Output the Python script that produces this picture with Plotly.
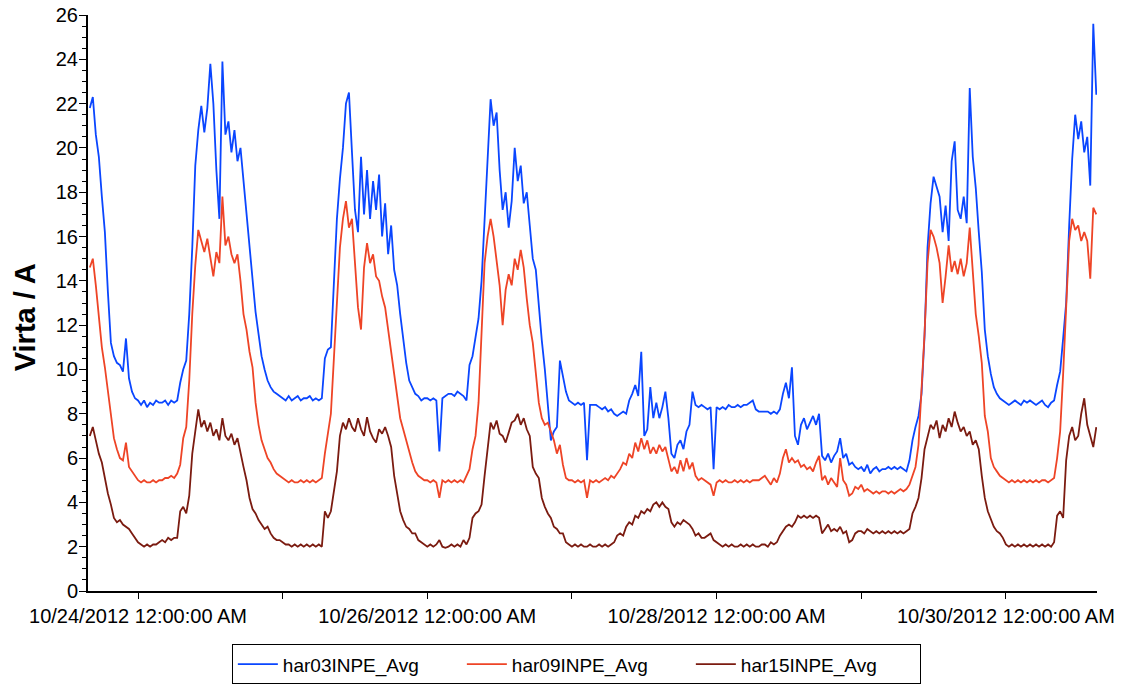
import pandas as pd
import plotly.graph_objects as go

# 30-minute samples starting 2012-10-23 16:00
start_time = "2012-10-23 16:00"
step = "30min"

har03 = [
    21.8, 22.3, 20.6, 19.6, 17.8, 16.2, 13.5, 11.2,
    10.6, 10.3, 10.2, 9.9, 11.4, 9.6, 9.0, 8.7,
    8.6, 8.4, 8.6, 8.3, 8.5, 8.4, 8.6, 8.5,
    8.5, 8.6, 8.4, 8.6, 8.5, 8.6, 9.4, 10.0,
    10.4, 12.5, 15.5, 19.2, 20.8, 21.9, 20.7, 21.8,
    23.8, 22.0, 19.0, 16.8, 23.9, 20.6, 21.2, 19.8,
    20.8, 19.4, 20.0, 18.5, 16.8, 15.6, 13.8, 12.6,
    11.6, 10.6, 10.0, 9.5, 9.2, 9.0, 8.9, 8.8,
    8.7, 8.6, 8.8, 8.6, 8.7, 8.8, 8.6, 8.7,
    8.7, 8.8, 8.6, 8.7, 8.6, 8.7, 10.5, 10.9,
    11.0, 13.8, 16.8, 18.6, 20.0, 22.0, 22.5, 19.8,
    17.2, 16.2, 19.6, 17.0, 19.0, 16.8, 18.5, 17.2,
    18.8, 16.0, 17.5, 15.2, 16.5, 14.5, 13.8, 12.5,
    11.3, 10.3, 9.5, 9.2, 8.9, 8.8, 8.6, 8.7,
    8.7, 8.6, 8.7, 8.6, 6.3, 8.7, 8.8, 8.9,
    8.9, 8.8, 9.0, 8.9, 8.8, 8.6, 10.2, 10.6,
    11.5, 12.3, 14.0, 16.8, 19.5, 22.2, 21.0, 21.6,
    19.0, 17.2, 18.0, 16.4, 17.6, 20.0, 18.5, 19.2,
    17.5, 18.0, 16.5, 15.0, 14.5, 12.8, 11.3, 10.0,
    8.2, 6.8, 7.2, 7.4, 10.4, 9.6, 9.0, 8.6,
    8.5, 8.4, 8.5, 8.4, 8.5, 5.9, 8.4, 8.4,
    8.4, 8.3, 8.2, 8.3, 8.1, 8.2, 8.0, 7.9,
    8.0, 8.1, 8.0, 8.6, 8.9, 9.3, 8.8, 10.8,
    7.0, 7.3, 9.2, 7.8, 8.5, 7.8, 8.3, 9.0,
    7.8, 6.2, 6.0, 6.6, 6.8, 6.4, 7.2, 7.5,
    9.0, 8.4, 8.3, 8.4, 8.3, 8.2, 8.3, 5.5,
    8.3, 8.2, 8.3, 8.2, 8.4, 8.3, 8.3, 8.4,
    8.3, 8.4, 8.4, 8.5, 8.6, 8.2, 8.1, 8.1,
    8.1, 8.1, 8.0, 8.1, 8.0, 8.2, 8.9, 9.4,
    8.7, 10.1, 7.0, 6.6, 7.5, 7.8, 7.3, 7.6,
    7.9, 7.5, 8.0, 6.1, 5.9, 6.2, 5.8, 6.1,
    6.3, 6.9, 6.0, 6.2, 5.7, 5.8, 5.6, 5.5,
    5.6, 5.4, 5.7, 5.3, 5.5, 5.6, 5.4, 5.5,
    5.5, 5.6, 5.5, 5.6, 5.5, 5.6, 5.5, 5.4,
    5.9, 6.8, 7.4, 7.9, 8.9, 11.5, 15.5, 17.5,
    18.7, 18.3, 17.8, 16.2, 17.4, 15.8, 19.4, 20.3,
    17.2, 16.8, 17.8, 16.6, 22.7, 19.6, 18.2, 16.2,
    14.4, 11.8, 10.6, 9.8, 9.2, 8.9, 8.7, 8.6,
    8.5, 8.4, 8.5, 8.6, 8.5, 8.4, 8.6, 8.5,
    8.6, 8.5, 8.4, 8.5, 8.6, 8.4, 8.3, 8.5,
    8.6, 9.3, 9.9, 11.4, 13.0, 16.5, 19.5, 21.5,
    20.4, 21.2, 19.8, 20.5, 18.3, 25.6, 22.4,
]

har09 = [
    14.6, 15.0, 13.8, 12.4, 11.0, 10.1, 9.0, 7.8,
    6.9, 6.4, 6.0, 5.9, 6.7, 5.6, 5.4, 5.2,
    5.0, 4.9, 5.0, 4.9, 4.9, 5.0, 4.9, 5.0,
    5.0, 5.1, 5.1, 5.2, 5.1, 5.3, 5.7, 6.9,
    7.4, 9.5, 12.5, 14.7, 16.3, 15.8, 15.3, 15.9,
    15.0, 14.2, 15.3, 14.8, 17.8, 15.6, 16.0, 15.2,
    14.8, 15.2, 14.0, 12.5, 11.8, 10.8, 10.1, 8.5,
    7.5, 6.8, 6.4, 6.0, 5.8, 5.5, 5.3, 5.2,
    5.1, 5.0, 4.9, 5.0, 4.9, 4.9, 5.0, 4.9,
    5.0, 4.9, 5.0, 4.9, 5.0, 5.1, 6.2, 7.2,
    8.0, 10.5, 13.0, 15.5, 16.8, 17.6, 16.4, 16.8,
    14.8, 12.8, 11.8, 14.6, 15.7, 14.8, 15.2, 14.2,
    14.0, 13.3, 12.8, 11.8, 10.6, 9.7, 8.8, 7.8,
    7.3, 6.8, 6.2, 5.8, 5.4, 5.2, 5.1, 5.0,
    5.0, 4.9, 5.0, 4.9, 4.2, 5.0, 4.9, 5.0,
    4.9, 5.0, 4.9, 5.0, 4.9, 5.2, 5.5, 6.4,
    7.0, 8.5, 11.5, 14.8, 16.0, 16.8, 16.0, 15.0,
    13.8, 12.0, 13.6, 14.3, 13.8, 15.0, 14.5, 15.4,
    14.6, 13.2, 12.0, 11.2, 9.8, 8.5, 7.8, 7.5,
    7.6, 7.2, 6.8, 6.2, 6.6, 5.7, 5.1, 5.0,
    5.0, 4.9, 5.0, 4.9, 5.0, 4.2, 5.0, 4.9,
    5.0, 4.9, 5.0, 5.1, 5.0, 5.2, 5.1, 5.3,
    5.5, 5.8, 5.7, 6.2, 6.0, 6.7, 6.3, 6.9,
    6.4, 6.8, 6.2, 6.5, 6.2, 6.6, 6.3, 6.5,
    5.9, 5.4, 5.6, 5.3, 5.9, 5.4, 6.0, 5.5,
    5.8, 5.2, 5.0, 5.1, 5.0, 4.9, 4.8, 4.3,
    4.9, 5.0, 4.9, 5.0, 4.9, 4.9, 5.0, 4.9,
    5.0, 4.9, 5.0, 4.9, 5.0, 5.0, 5.0, 5.1,
    5.2, 5.0, 4.8, 5.1, 4.9, 5.3, 6.0, 6.4,
    5.8, 6.0, 5.8, 5.9, 5.6, 5.7, 5.5, 5.6,
    5.4, 5.8, 6.1, 5.0, 5.2, 4.8, 5.1, 4.9,
    4.7, 6.0, 5.0, 4.8, 4.3, 4.4, 4.7, 4.6,
    4.8, 4.5, 4.6, 4.5, 4.4, 4.5, 4.4, 4.5,
    4.5, 4.4, 4.5, 4.4, 4.5, 4.6, 4.5, 4.6,
    4.8, 5.2, 5.6, 6.6, 8.9, 11.6, 14.8, 16.3,
    16.0, 15.5, 14.8, 13.0, 14.2, 15.6, 14.4, 14.9,
    14.3, 15.0, 14.2, 14.8, 16.4, 14.6, 12.5, 11.5,
    10.3, 7.9, 7.2, 6.0, 5.6, 5.4, 5.2, 5.1,
    5.0, 4.9, 5.0, 4.9, 5.0, 4.9, 5.0, 4.9,
    5.0, 4.9, 5.0, 4.9, 5.0, 5.0, 4.9, 5.0,
    5.1, 6.0, 7.2, 9.8, 12.5, 15.8, 16.8, 16.3,
    16.5, 15.8, 16.2, 15.8, 14.1, 17.3, 17.0,
]

har15 = [
    7.0, 7.4, 6.8, 6.2, 5.8, 5.1, 4.4, 3.9,
    3.3, 3.1, 3.2, 3.0, 2.9, 2.8, 2.6, 2.4,
    2.2, 2.1, 2.0, 2.1, 2.0, 2.1, 2.1, 2.2,
    2.3, 2.2, 2.4, 2.3, 2.4, 2.4, 3.6, 3.8,
    3.5, 4.3, 6.2, 7.2, 8.2, 7.4, 7.7, 7.2,
    7.6, 7.0, 7.3, 6.8, 7.8, 7.0, 6.8, 7.1,
    6.6, 6.9, 6.2, 5.6, 5.0, 4.2, 3.7, 3.5,
    3.2, 3.0, 2.8, 2.9, 2.6, 2.4, 2.3, 2.3,
    2.2, 2.1, 2.1, 2.0, 2.1, 2.0, 2.1, 2.0,
    2.1, 2.0, 2.1, 2.0, 2.1, 2.0, 3.6, 3.3,
    3.6, 4.6, 5.4, 7.0, 7.6, 7.3, 7.8, 7.4,
    7.2, 7.8, 7.3, 7.0, 7.85, 7.2, 6.9, 6.7,
    7.3, 7.1, 7.4, 7.0, 6.5, 5.2, 4.4, 3.6,
    3.2, 2.9, 2.8, 2.6, 2.6, 2.3, 2.2, 2.1,
    2.0, 2.1, 2.0, 2.1, 2.3, 2.0, 1.95, 2.0,
    2.1, 2.0, 2.1, 2.0, 2.3, 2.1, 2.4, 3.3,
    3.5, 3.6, 3.9, 5.2, 6.3, 7.6, 7.3, 7.7,
    7.1, 7.0, 6.7, 7.2, 7.6, 7.7, 8.0, 7.5,
    7.8, 7.3, 7.0, 5.6, 5.3, 5.1, 4.2, 3.8,
    3.5, 3.3, 2.9, 2.8, 2.6, 2.6, 2.2, 2.1,
    2.0, 2.1, 2.0, 2.1, 2.0, 2.0, 2.1, 2.0,
    2.0, 2.1, 2.0, 2.1, 2.0, 2.1, 2.2, 2.5,
    2.6, 2.5, 2.9, 3.1, 3.0, 3.4, 3.3, 3.6,
    3.5, 3.7, 3.6, 3.9, 4.0, 3.8, 4.0, 3.8,
    3.7, 3.1, 2.9, 3.1, 3.0, 3.2, 3.1, 3.0,
    2.8, 2.5, 2.6, 2.4, 2.4, 2.5, 2.6, 2.3,
    2.2, 2.1, 2.0, 2.1, 2.0, 2.1, 2.0, 2.0,
    2.1, 2.0, 2.1, 2.0, 2.1, 2.0, 2.0, 2.1,
    2.1, 2.0, 2.2, 2.1, 2.2, 2.5, 2.7, 2.9,
    3.0, 2.9, 3.1, 3.4, 3.3, 3.4, 3.3, 3.4,
    3.3, 3.4, 3.3, 2.6, 2.8, 3.0, 2.7, 2.8,
    2.7, 2.9, 2.6, 2.7, 2.2, 2.3, 2.6, 2.7,
    2.7, 2.6, 2.8, 2.7, 2.6, 2.7, 2.6, 2.7,
    2.6, 2.7, 2.6, 2.7, 2.6, 2.7, 2.6, 2.7,
    2.8, 3.5, 3.8, 4.2, 5.1, 6.4, 7.0, 7.5,
    7.3, 7.7, 6.9, 7.5, 7.2, 7.8, 7.4, 8.1,
    7.6, 7.2, 7.4, 7.0, 7.2, 6.6, 6.8, 6.4,
    5.2, 4.2, 3.6, 3.2, 2.9, 2.7, 2.6, 2.4,
    2.1, 2.0, 2.1, 2.0, 2.1, 2.0, 2.1, 2.0,
    2.1, 2.0, 2.1, 2.0, 2.1, 2.0, 2.1, 2.0,
    2.2, 3.4, 3.6, 3.3, 5.9, 7.0, 7.4, 6.8,
    7.0, 8.0, 8.7, 7.5, 7.0, 6.5, 7.4,
]

series_names = ["har03INPE_Avg", "har09INPE_Avg", "har15INPE_Avg"]
series_colors = ["#0a46ff", "#ee4426", "#7b1b10"]

tick_days = ["2012-10-24", "2012-10-25", "2012-10-26", "2012-10-27",
             "2012-10-28", "2012-10-29", "2012-10-30"]
tick_text = ["10/24/2012 12:00:00 AM", "", "10/26/2012 12:00:00 AM", "",
             "10/28/2012 12:00:00 AM", "", "10/30/2012 12:00:00 AM"]

x_range = ["2012-10-23 15:42", "2012-10-30 15:07"]
y_range = [0, 26]
y_title = "Virta / A"

times = pd.date_range(start_time, periods=len(har03), freq=step)

fig = go.Figure()
for name, vals, col in zip(series_names, [har03, har09, har15], series_colors):
    fig.add_trace(go.Scatter(x=times, y=vals, mode="lines", name=name,
                             line=dict(color=col, width=1.8)))

font_family = "Liberation Sans, Arial, sans-serif"

fig.add_annotation(text="<b>" + y_title + "</b>", textangle=-90,
                   xref="paper", yref="paper", x=-0.063, y=0.476,
                   xanchor="center", yanchor="middle", showarrow=False,
                   font=dict(size=29, color="black", family=font_family))

fig.update_layout(
    width=1126, height=686,
    margin=dict(l=88, r=29, t=15, b=95, autoexpand=False),
    plot_bgcolor="white", paper_bgcolor="white",
    font=dict(family=font_family, size=20, color="black"),
    showlegend=True,
    legend=dict(orientation="h", x=0.484, xanchor="center", y=-0.162, yanchor="bottom",
                bordercolor="black", borderwidth=1, font=dict(size=19),
                itemwidth=40, tracegroupgap=0, entrywidth=174, entrywidthmode="pixels"),
    xaxis=dict(range=x_range, tickvals=tick_days, ticktext=tick_text,
               ticks="outside", ticklen=6, tickwidth=1, tickcolor="black",
               showline=True, linecolor="black", linewidth=2, showgrid=False,
               zeroline=False, tickangle=0, automargin=False),
    yaxis=dict(range=y_range, dtick=2, ticks="outside", ticklen=7, tickwidth=1,
               tickcolor="black", showline=True, linecolor="black", linewidth=2,
               showgrid=False, zeroline=False, automargin=False, ticklabelstandoff=-3,
               minor=dict(dtick=0.5, ticks="outside", ticklen=4, tickcolor="black", showgrid=False)),
)

fig.write_html("out.html", config={"displayModeBar": False},
               post_script="document.body.style.margin='0';document.body.style.overflow='hidden';")
